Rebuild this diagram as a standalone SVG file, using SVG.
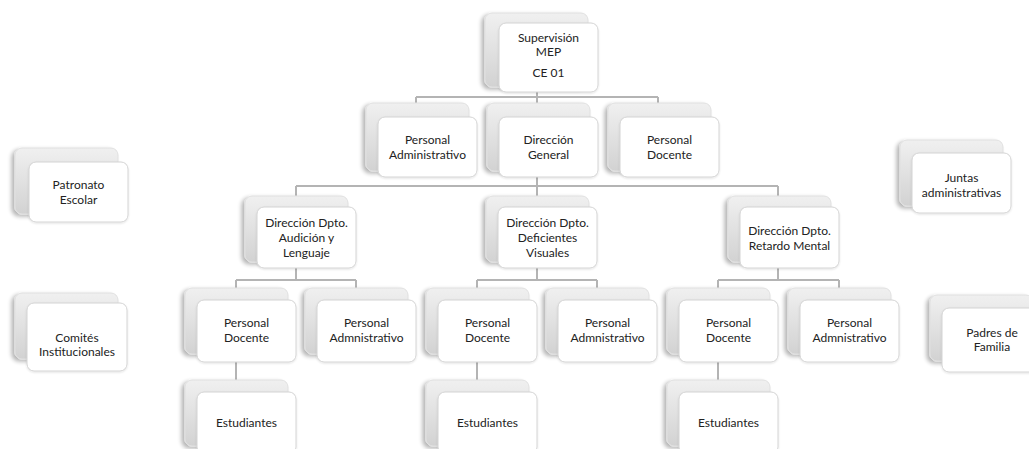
<svg xmlns="http://www.w3.org/2000/svg" width="1029" height="449" viewBox="0 0 1029 449">
<defs>
<linearGradient id="gb" x1="0" y1="0" x2="0" y2="1">
<stop offset="0" stop-color="#f0f0f0"/>
<stop offset="1" stop-color="#d2d2d2"/>
</linearGradient>
<filter id="sh" x="-20%" y="-20%" width="140%" height="140%">
<feGaussianBlur in="SourceAlpha" stdDeviation="2"/>
<feOffset dx="-3" dy="2" result="o"/>
<feComponentTransfer><feFuncA type="linear" slope="0.3"/></feComponentTransfer>
<feMerge><feMergeNode/><feMergeNode in="SourceGraphic"/></feMerge>
</filter>
<filter id="sf" x="-20%" y="-20%" width="140%" height="140%">
<feGaussianBlur in="SourceAlpha" stdDeviation="1"/>
<feOffset dx="0" dy="1" result="o"/>
<feComponentTransfer><feFuncA type="linear" slope="0.12"/></feComponentTransfer>
<feMerge><feMergeNode/><feMergeNode in="SourceGraphic"/></feMerge>
</filter>
</defs>
<style>
.b{fill:url(#gb);stroke:#e0e0e0;stroke-width:1;filter:url(#sh)}
.f{fill:#ffffff;stroke:#d4d4d4;stroke-width:1;filter:url(#sf)}
.t{font-family:Lato,"Open Sans","Liberation Sans",sans-serif;font-size:12px;fill:#222222;text-anchor:middle}
.c{fill:none;stroke:#b4b4b4;stroke-width:2}
</style>
<rect width="1029" height="449" fill="#ffffff"/>
<g id="connectors">
<path class="c" d="M537 90V97M416 97H658M416 97V105M537 97V105M658 97V105"/>
<path class="c" d="M537 175V186M296 186H778M296 186V198M537 186V198M778 186V198"/>
<path class="c" d="M296 266V280M236 280H356M236 280V290M356 280V290"/>
<path class="c" d="M537 266V280M477 280H597M477 280V290M597 280V290"/>
<path class="c" d="M778 266V280M718 280H839M718 280V290M839 280V290"/>
<path class="c" d="M236 360V382M477 360V382M718 360V382"/>
</g>
<g id="supervision">
<rect class="b" x="485" y="13" width="103" height="74" rx="7"/>
<rect class="f" x="499" y="23" width="99" height="69" rx="7"/>
<text class="t" x="548.5" y="42">Supervisión</text>
<text class="t" x="548.5" y="56">MEP</text>
<text class="t" x="548.5" y="77">CE 01</text>
</g>
<g id="personal-administrativo">
<rect class="b" x="366" y="103" width="103" height="68" rx="7"/>
<rect class="f" x="378" y="117" width="99" height="60" rx="7"/>
<text class="t" x="427.5" y="144">Personal</text>
<text class="t" x="427.5" y="159">Administrativo</text>
</g>
<g id="direccion-general">
<rect class="b" x="487" y="103" width="103" height="68" rx="7"/>
<rect class="f" x="499" y="117" width="99" height="60" rx="7"/>
<text class="t" x="548.5" y="144">Dirección</text>
<text class="t" x="548.5" y="159">General</text>
</g>
<g id="personal-docente">
<rect class="b" x="608" y="103" width="103" height="68" rx="7"/>
<rect class="f" x="620" y="117" width="99" height="60" rx="7"/>
<text class="t" x="669.5" y="144">Personal</text>
<text class="t" x="669.5" y="159">Docente</text>
</g>
<g id="dpto-audicion">
<rect class="b" x="245" y="196" width="103" height="66" rx="7"/>
<rect class="f" x="257" y="207" width="99" height="61" rx="7"/>
<text class="t" x="306.5" y="227">Dirección Dpto.</text>
<text class="t" x="306.5" y="242">Audición y</text>
<text class="t" x="306.5" y="257">Lenguaje</text>
</g>
<g id="dpto-visuales">
<rect class="b" x="486" y="196" width="103" height="66" rx="7"/>
<rect class="f" x="498" y="207" width="99" height="61" rx="7"/>
<text class="t" x="547.5" y="227">Dirección Dpto.</text>
<text class="t" x="547.5" y="242">Deficientes</text>
<text class="t" x="547.5" y="257">Visuales</text>
</g>
<g id="dpto-retardo">
<rect class="b" x="728" y="196" width="103" height="66" rx="7"/>
<rect class="f" x="740" y="207" width="99" height="61" rx="7"/>
<text class="t" x="789.5" y="235">Dirección Dpto.</text>
<text class="t" x="789.5" y="250">Retardo Mental</text>
</g>
<g id="docente-1">
<rect class="b" x="185" y="288" width="103" height="66" rx="7"/>
<rect class="f" x="197" y="300" width="99" height="62" rx="7"/>
<text class="t" x="246.5" y="327">Personal</text>
<text class="t" x="246.5" y="342">Docente</text>
</g>
<g id="admin-1">
<rect class="b" x="305" y="288" width="103" height="66" rx="7"/>
<rect class="f" x="317" y="300" width="99" height="62" rx="7"/>
<text class="t" x="366.5" y="327">Personal</text>
<text class="t" x="366.5" y="342">Admnistrativo</text>
</g>
<g id="docente-2">
<rect class="b" x="426" y="288" width="103" height="66" rx="7"/>
<rect class="f" x="438" y="300" width="99" height="62" rx="7"/>
<text class="t" x="487.5" y="327">Personal</text>
<text class="t" x="487.5" y="342">Docente</text>
</g>
<g id="admin-2">
<rect class="b" x="546" y="288" width="103" height="66" rx="7"/>
<rect class="f" x="558" y="300" width="99" height="62" rx="7"/>
<text class="t" x="607.5" y="327">Personal</text>
<text class="t" x="607.5" y="342">Admnistrativo</text>
</g>
<g id="docente-3">
<rect class="b" x="667" y="288" width="103" height="66" rx="7"/>
<rect class="f" x="679" y="300" width="99" height="62" rx="7"/>
<text class="t" x="728.5" y="327">Personal</text>
<text class="t" x="728.5" y="342">Docente</text>
</g>
<g id="admin-3">
<rect class="b" x="788" y="288" width="103" height="66" rx="7"/>
<rect class="f" x="800" y="300" width="99" height="62" rx="7"/>
<text class="t" x="849.5" y="327">Personal</text>
<text class="t" x="849.5" y="342">Admnistrativo</text>
</g>
<g id="estudiantes-1">
<rect class="b" x="185" y="380" width="103" height="66" rx="7"/>
<rect class="f" x="197" y="392" width="99" height="62" rx="7"/>
<text class="t" x="246.5" y="427">Estudiantes</text>
</g>
<g id="estudiantes-2">
<rect class="b" x="426" y="380" width="103" height="66" rx="7"/>
<rect class="f" x="438" y="392" width="99" height="62" rx="7"/>
<text class="t" x="487.5" y="427">Estudiantes</text>
</g>
<g id="estudiantes-3">
<rect class="b" x="667" y="380" width="103" height="66" rx="7"/>
<rect class="f" x="679" y="392" width="99" height="62" rx="7"/>
<text class="t" x="728.5" y="427">Estudiantes</text>
</g>
<g id="patronato">
<rect class="b" x="15" y="148" width="103" height="66" rx="7"/>
<rect class="f" x="29" y="162" width="99" height="60" rx="7"/>
<text class="t" x="78.5" y="189">Patronato</text>
<text class="t" x="78.5" y="204">Escolar</text>
</g>
<g id="comites">
<rect class="b" x="15" y="293" width="103" height="66" rx="7"/>
<rect class="f" x="27" y="303" width="100" height="68" rx="7"/>
<text class="t" x="77" y="342">Comités</text>
<text class="t" x="77" y="356">Institucionales</text>
</g>
<g id="juntas">
<rect class="b" x="900" y="140" width="103" height="66" rx="7"/>
<rect class="f" x="912" y="153" width="99" height="60" rx="7"/>
<text class="t" x="961.5" y="182">Juntas</text>
<text class="t" x="961.5" y="197">administrativas</text>
</g>
<g id="padres">
<rect class="b" x="930" y="295" width="103" height="66" rx="7"/>
<rect class="f" x="942" y="308" width="100" height="64" rx="7"/>
<text class="t" x="992" y="337">Padres de</text>
<text class="t" x="992" y="351">Familia</text>
</g>
</svg>
